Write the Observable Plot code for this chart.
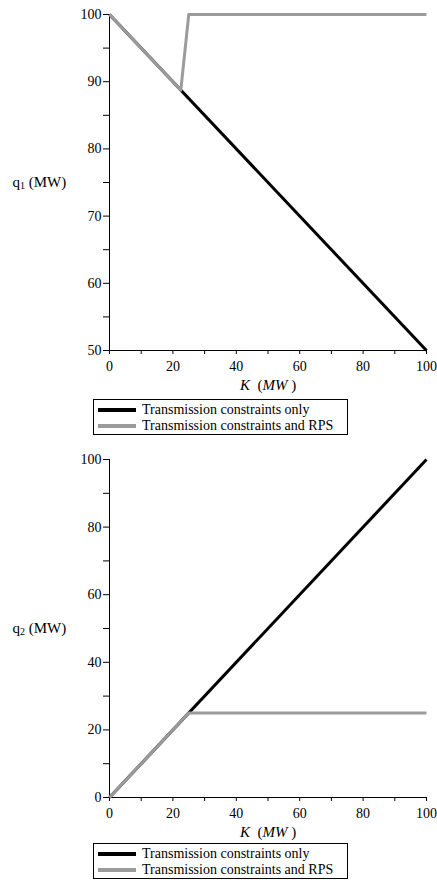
<!DOCTYPE html>
<html><head><meta charset="utf-8">
<script src="https://cdn.jsdelivr.net/npm/d3@7"></script>
<script src="https://cdn.jsdelivr.net/npm/@observablehq/plot@0.6"></script>
<style>
body{margin:0;background:#fff;}
#wrap{position:relative;width:437px;height:880px;font-family:"Liberation Serif","Times New Roman","DejaVu Serif",serif;color:#000;}
.chart{position:absolute;left:0;}
.chart text{font-family:"Liberation Serif","Times New Roman","DejaVu Serif",serif;}
.legend{position:absolute;left:93px;width:255px;height:36px;border:1px solid #000;box-sizing:border-box;font-size:14px;background:#fff;}
.legend .row{position:absolute;left:4px;height:16px;display:flex;align-items:center;white-space:nowrap;}
.legend .sw{width:38px;height:3.5px;margin-right:6px;}
</style></head>
<body><div id="wrap"></div>
<script>
// ---- data ----
const xTicks = [0, 10, 20, 30, 40, 50, 60, 70, 80, 90, 100];
const xLabelTicks = [0, 20, 40, 60, 80, 100];
const y1Ticks = [50, 55, 60, 65, 70, 75, 80, 85, 90, 95, 100];
const y1LabelTicks = [50, 60, 70, 80, 90, 100];
const y2Ticks = [0, 10, 20, 30, 40, 50, 60, 70, 80, 90, 100];
const y2LabelTicks = [0, 20, 40, 60, 80, 100];

const seriesNames = ["Transmission constraints only", "Transmission constraints and RPS"];
const seriesColors = ["#000000", "#9b9b9b"];

// chart 1: q1
const k1Only = [0, 100];
const q1Only = [100, 50];
const k1Rps = [0, 22.5, 25, 100];
const q1Rps = [100, 88.75, 100, 100];

// chart 2: q2
const k2Only = [0, 100];
const q2Only = [0, 100];
const k2Rps = [0, 25, 100];
const q2Rps = [0, 25, 25];

const FONT = "'Liberation Serif','Times New Roman','DejaVu Serif',serif";
const wrap = document.getElementById("wrap");

function toRows(ks, qs) { return ks.map((k, i) => ({k, q: qs[i]})); }

function makeChart({top, height, marginTop, marginBottom, yDomain, yTicks, yLabelTicks, kOnly, qOnly, kRps, qRps, sub}) {
  const svg = Plot.plot({
    width: 437, height, marginLeft: 109, marginRight: 11, marginTop, marginBottom,
    style: {fontFamily: FONT, fontSize: "14px", color: "#000", background: "transparent", overflow: "visible"},
    x: {domain: [0, 100]},
    y: {domain: yDomain},
    marks: [
      Plot.axisX({ticks: xTicks, tickSize: 4, tickPadding: 7, fontSize: 14, fill: "#000", tickFormat: d => xLabelTicks.includes(d) ? String(d) : "", label: null}),
      Plot.axisY({ticks: yTicks, tickSize: 6, tickPadding: 2, fontSize: 14, fill: "#000", tickFormat: d => yLabelTicks.includes(d) ? String(d) : "", label: null}),
      Plot.ruleX([0], {stroke: "#000", strokeWidth: 1}),
      Plot.ruleY([yDomain[0]], {stroke: "#000", strokeWidth: 1}),
      Plot.line(toRows(kOnly, qOnly), {x: "k", y: "q", stroke: seriesColors[0], strokeWidth: 3, strokeLinecap: "butt"}),
      Plot.line(toRows(kRps, qRps), {x: "k", y: "q", stroke: seriesColors[1], strokeWidth: 3, strokeLinecap: "butt"}),
      Plot.text(["q" + sub + " (MW)"], {frameAnchor: "left", dx: -97, textAnchor: "start", fontSize: 15, fill: "#000"}),
      Plot.text(["K (MW )"], {frameAnchor: "bottom", dy: 39, fontSize: 15, fill: "#000"})
    ]
  });
  svg.classList.add("chart");
  svg.style.top = top + "px";
  // rich text: subscript and italics
  d3.select(svg).selectAll("text").each(function() {
    const t = this.textContent;
    if (t === "q" + sub + " (MW)") {
      const s = d3.select(this); s.text("");
      s.append("tspan").text("q");
      s.append("tspan").attr("font-size", 10).attr("dy", 1.5).text(sub);
      s.append("tspan").attr("dy", -1.5).text(" (MW)");
    } else if (t === "K (MW )") {
      const s = d3.select(this); s.text("");
      s.append("tspan").attr("font-style", "italic").text("K");
      s.append("tspan").text("  (");
      s.append("tspan").attr("font-style", "italic").text("MW");
      s.append("tspan").text(" )");
    }
  });
  wrap.appendChild(svg);
}

function makeLegend(top) {
  const box = document.createElement("div");
  box.className = "legend";
  box.style.top = top + "px";
  seriesNames.forEach((name, i) => {
    const row = document.createElement("div");
    row.className = "row";
    row.style.top = (2 + i * 16) + "px";
    const sw = document.createElement("span");
    sw.className = "sw"; sw.style.background = seriesColors[i];
    const tx = document.createElement("span");
    tx.textContent = name;
    row.appendChild(sw); row.appendChild(tx);
    box.appendChild(row);
  });
  wrap.appendChild(box);
}

makeChart({top: 0, height: 398, marginTop: 14, marginBottom: 48, yDomain: [50, 100], yTicks: y1Ticks, yLabelTicks: y1LabelTicks, kOnly: k1Only, qOnly: q1Only, kRps: k1Rps, qRps: q1Rps, sub: "1"});
makeLegend(399);
makeChart({top: 440, height: 403, marginTop: 19, marginBottom: 46, yDomain: [0, 100], yTicks: y2Ticks, yLabelTicks: y2LabelTicks, kOnly: k2Only, qOnly: q2Only, kRps: k2Rps, qRps: q2Rps, sub: "2"});
makeLegend(843);
</script>
</body></html>
